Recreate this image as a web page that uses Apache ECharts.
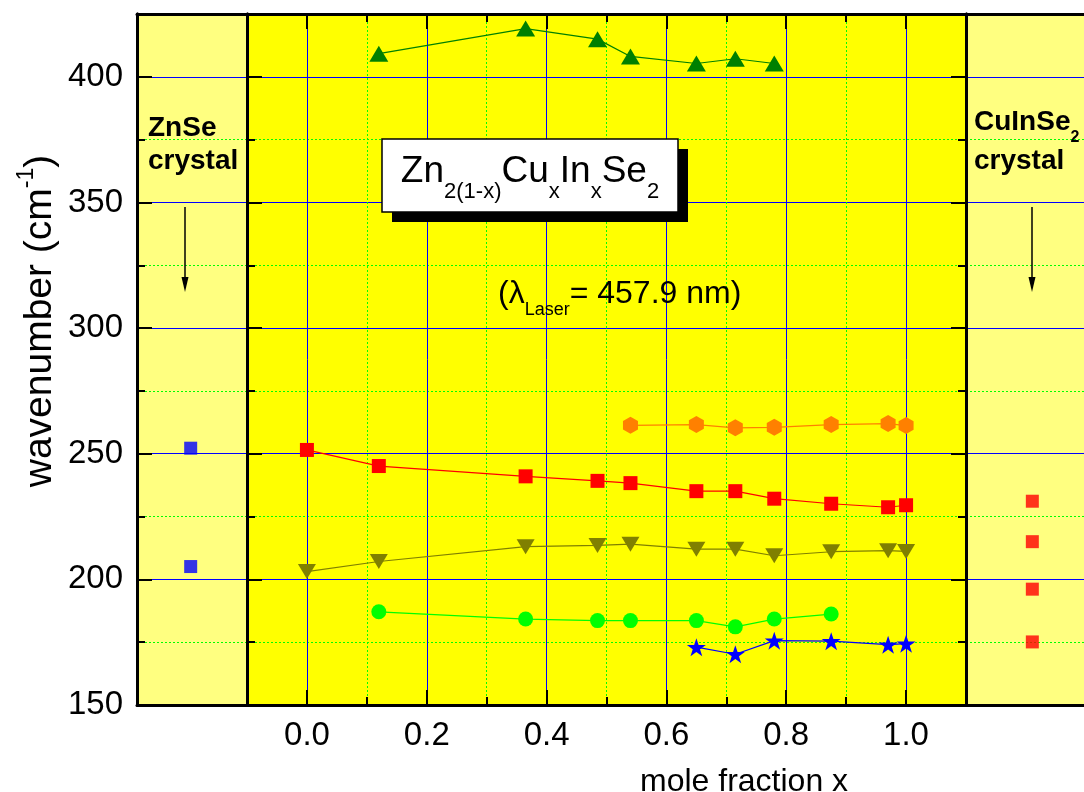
<!DOCTYPE html>
<html>
<head>
<meta charset="utf-8">
<script src="https://cdn.jsdelivr.net/npm/echarts@6/dist/echarts.min.js"></script>
<style>
  html, body { margin: 0; padding: 0; background: #fff; }
  #chart { width: 1084px; height: 792px; }
</style>
</head>
<body>
<div id="chart"></div>
<script>
// Raman mode positions (cm^-1) of Zn2(1-x)CuxInxSe2 versus mole fraction x
const moleFraction = [0, 0.12, 0.365, 0.485, 0.54, 0.65, 0.715, 0.78, 0.875, 0.97, 1.0];
const modeTriangle = [null, 409.2, 419.2, 415.0, 408.1, 405.3, 407.2, 405.3, null, null, null];
const modeHexagon  = [null, null, null, null, 261.3, 261.6, 260.3, 260.5, 261.6, 262.0, 261.2];
const modeSquare   = [251.5, 245.1, 241.0, 239.2, 238.3, 235.1, 235.1, 232.1, 230.1, 228.7, 229.5];
const modeDown     = [203.1, 207.1, 213.0, 213.5, 214.0, 212.0, 212.0, 209.4, 211.0, 211.4, 211.1];
const modeCircle   = [null, 187.1, 184.2, 183.6, 183.6, 183.6, 181.1, 184.2, 186.2, null, null];
const modeStar     = [null, null, null, null, null, 173.0, 170.2, 175.6, 175.4, 174.0, 174.4];

// reference crystals shown in the side panels
const znSeX = -0.194;
const znSeModes = [252.2, 205.1];
const cuInSe2X = 1.2126;
const cuInSe2Modes = [231.1, 215.0, 196.1, 175.1];

// axis ranges
const yMin = 150, yMax = 425;
const xMainRange = [-0.1, 1.1];
const xLeftRange = [-0.2836, -0.1];
const xRightRange = [1.1, 1.3003];
const xTickRange = [0, 1];

const FONT = '"Liberation Sans", Arial, Helvetica, sans-serif';
const BLACK = '#000000';
const dottedGreen = { color: '#00ff00', width: 1, type: [2, 2] };
const solidBlue = { color: '#0000ff', width: 1 };
const frameLine = { show: true, onZero: false, lineStyle: { color: BLACK, width: 3 } };

function pairs(xs, ys) {
  const out = [];
  ys.forEach((y, i) => { if (y !== null) out.push([xs[i], y]); });
  return out;
}

function starPath() {
  const pts = [];
  for (let i = 0; i < 10; i++) {
    const r = i % 2 ? 0.382 : 1;
    const a = -Math.PI / 2 + i * Math.PI / 5;
    pts.push((r * Math.cos(a)).toFixed(3) + ',' + (r * Math.sin(a)).toFixed(3));
  }
  return 'path://M' + pts.join('L') + 'Z';
}
const hexPath = 'path://M0,-1L0.866,-0.5L0.866,0.5L0,1L-0.866,0.5L-0.866,-0.5Z';

function xAx(grid, pos, range, extra) {
  return Object.assign({
    type: 'value', gridIndex: grid, position: pos, min: range[0], max: range[1],
    axisLine: { show: false, onZero: false }, axisTick: { show: false },
    axisLabel: { show: false }, splitLine: { show: false }
  }, extra || {});
}
function yAx(grid, pos, extra) {
  return Object.assign({
    type: 'value', gridIndex: grid, position: pos, min: yMin, max: yMax,
    axisLine: { show: false, onZero: false }, axisTick: { show: false },
    axisLabel: { show: false }, splitLine: { show: false }
  }, extra || {});
}
const minorTick = { show: true, inside: true, length: 8, lineStyle: { color: BLACK, width: 2 } };
const majorTick = { show: true, inside: true, length: 15, lineStyle: { color: BLACK, width: 2 } };

const xAxis = [
  // 0,1: left panel frame
  xAx(0, 'bottom', xLeftRange, { axisLine: frameLine }),
  xAx(0, 'top', xLeftRange, { axisLine: frameLine }),
  // 2,3: middle panel, minor positions (odd tenths)
  xAx(1, 'bottom', xMainRange, { interval: 0.2, axisLine: frameLine, axisTick: minorTick,
    splitLine: { show: true, lineStyle: dottedGreen } }),
  xAx(1, 'top', xMainRange, { interval: 0.2, axisLine: frameLine, axisTick: minorTick }),
  // 4,5: right panel frame
  xAx(2, 'bottom', xRightRange, { axisLine: frameLine }),
  xAx(2, 'top', xRightRange, { axisLine: frameLine }),
  // 6,7: major ticks, labels and grid lines 0.0 ... 1.0
  xAx(3, 'bottom', xTickRange, { interval: 0.2, axisTick: majorTick,
    axisLabel: { show: true, margin: 14, fontSize: 33, fontFamily: FONT, color: BLACK,
      formatter: v => v.toFixed(1) },
    splitLine: { show: true, lineStyle: solidBlue } }),
  xAx(3, 'top', xTickRange, { interval: 0.2, axisTick: majorTick })
];

const yLabel = { show: true, margin: 14, fontSize: 33, fontFamily: FONT, color: BLACK,
  formatter: v => (v % 50 === 0 ? String(v) : '') };

const yAxis = [
  // 0,1: outer left axis
  yAx(0, 'left', { interval: 25, axisLine: frameLine, axisTick: minorTick,
    splitLine: { show: true, lineStyle: dottedGreen } }),
  yAx(0, 'left', { interval: 50, axisLine: frameLine, axisTick: majorTick, axisLabel: yLabel,
    splitLine: { show: true, lineStyle: solidBlue } }),
  // 2..5: middle panel frame
  yAx(1, 'left', { interval: 25, axisLine: frameLine, axisTick: minorTick,
    splitLine: { show: true, lineStyle: dottedGreen } }),
  yAx(1, 'left', { interval: 50, axisLine: frameLine, axisTick: majorTick,
    splitLine: { show: true, lineStyle: solidBlue } }),
  yAx(1, 'right', { interval: 25, axisLine: frameLine, axisTick: minorTick }),
  yAx(1, 'right', { interval: 50, axisLine: frameLine, axisTick: majorTick }),
  // 6,7: right panel grid lines
  yAx(2, 'left', { interval: 25, splitLine: { show: true, lineStyle: dottedGreen } }),
  yAx(2, 'left', { interval: 50, splitLine: { show: true, lineStyle: solidBlue } }),
  // 8: tick helper grid
  yAx(3, 'left', { show: false })
];

function modeLine(values, color, symbol, size, rotate) {
  return {
    type: 'line', xAxisIndex: 2, yAxisIndex: 2, z: 3,
    data: pairs(moleFraction, values),
    symbol: symbol, symbolSize: size, symbolRotate: rotate || 0,
    showSymbol: true, showAllSymbol: true,
    itemStyle: { color: color, borderWidth: 0 },
    lineStyle: { color: color, width: 1.2 },
    emphasis: { disabled: true }, silent: true
  };
}

const series = [
  modeLine(modeTriangle, '#008000', 'triangle', [19, 16]),
  modeLine(modeHexagon, '#ff8000', hexPath, [15, 17]),
  modeLine(modeSquare, '#ff0000', 'rect', 14),
  modeLine(modeDown, '#808000', 'triangle', [18, 15], 180),
  modeLine(modeCircle, '#00ff00', 'circle', 15),
  modeLine(modeStar, '#0000ff', starPath(), [19, 18]),
  {
    type: 'scatter', xAxisIndex: 0, yAxisIndex: 0, z: 3, silent: true,
    data: znSeModes.map(v => [znSeX, v]),
    symbol: 'rect', symbolSize: 13, itemStyle: { color: '#0000ff' }
  },
  {
    type: 'scatter', xAxisIndex: 4, yAxisIndex: 6, z: 3, silent: true,
    data: cuInSe2Modes.map(v => [cuInSe2X, v]),
    symbol: 'rect', symbolSize: 13, itemStyle: { color: '#ff0000' }
  }
];

// text runs with subscripts: each piece is placed on its own baseline
const measureCtx = document.createElement('canvas').getContext('2d');
function textRun(x, baseline, parts, align, weight) {
  const fontOf = p => (weight ? weight + ' ' : '') + p.size + 'px ' + FONT;
  const widths = parts.map(p => { measureCtx.font = fontOf(p); return measureCtx.measureText(p.text).width; });
  const total = widths.reduce((a, b) => a + b, 0);
  let cx = align === 'center' ? x - total / 2 : x;
  return parts.map((p, i) => {
    const el = {
      type: 'text', z: 102, x: cx, y: baseline + (p.dy || 0) - 0.3465 * p.size,
      style: { text: p.text, font: fontOf(p), fill: BLACK, align: 'left', verticalAlign: 'middle' }
    };
    cx += widths[i];
    return el;
  });
}

function arrow(x, y0, y1) {
  return [
    { type: 'line', z: 100, shape: { x1: x, y1: y0, x2: x, y2: y1 - 12 }, style: { stroke: BLACK, lineWidth: 1.5 } },
    { type: 'polygon', z: 100, shape: { points: [[x, y1], [x - 3.5, y1 - 15], [x + 3.5, y1 - 15]] }, style: { fill: BLACK } }
  ];
}

const graphic = [
  // compound formula box with drop shadow
  { type: 'rect', z: 100, shape: { x: 392, y: 149, width: 296, height: 73 }, style: { fill: BLACK } },
  { type: 'rect', z: 101, shape: { x: 382, y: 139, width: 296, height: 73 },
    style: { fill: '#ffffff', stroke: BLACK, lineWidth: 1.5 } },
  ...textRun(530, 185, [
    { text: 'Zn', size: 37 }, { text: '2(1-x)', size: 22, dy: 15 },
    { text: 'Cu', size: 37 }, { text: 'x', size: 22, dy: 15 },
    { text: 'In', size: 37 }, { text: 'x', size: 22, dy: 15 },
    { text: 'Se', size: 37 }, { text: '2', size: 22, dy: 15 }
  ], 'center'),
  // excitation wavelength
  ...textRun(498, 305, [
    { text: '(λ', size: 32 }, { text: 'Laser', size: 18, dy: 11 }, { text: '= 457.9 nm)', size: 32 }
  ], 'left'),
  // side panel captions
  ...textRun(148, 138, [{ text: 'ZnSe', size: 28 }], 'left', 'bold'),
  ...textRun(148, 171, [{ text: 'crystal', size: 28 }], 'left', 'bold'),
  ...textRun(974, 132, [{ text: 'CuInSe', size: 28 }, { text: '2', size: 16, dy: 11 }], 'left', 'bold'),
  ...textRun(974, 171, [{ text: 'crystal', size: 28 }], 'left', 'bold'),
  ...arrow(185, 207, 292),
  ...arrow(1032, 207, 292),
  // axis titles
  { type: 'text', z: 102, x: 37.5, y: 321, rotation: Math.PI / 2,
    style: { text: '{m|wavenumber (cm}{p|-1}{m|)}', align: 'center', verticalAlign: 'middle',
      rich: {
        m: { fontSize: 39, fontFamily: FONT, lineHeight: 44, verticalAlign: 'bottom', fill: BLACK },
        p: { fontSize: 23, fontFamily: FONT, lineHeight: 24, verticalAlign: 'top', fill: BLACK }
      } } },
  ...textRun(640, 793, [{ text: 'mole fraction x', size: 32 }], 'left')
];

const chart = echarts.init(document.getElementById('chart'), null, { renderer: 'canvas' });
chart.setOption({
  animation: false,
  backgroundColor: '#ffffff',
  grid: [
    { left: 137, top: 14, width: 110, height: 691, show: true, backgroundColor: '#ffff80', borderWidth: 0 },
    { left: 247, top: 14, width: 719, height: 691, show: true, backgroundColor: '#ffff00', borderWidth: 0 },
    { left: 966, top: 14, width: 120, height: 691, show: true, backgroundColor: '#ffff80', borderWidth: 0 },
    { left: 307, top: 14, width: 599, height: 691, show: false }
  ],
  xAxis: xAxis,
  yAxis: yAxis,
  series: series,
  graphic: { elements: graphic }
});
</script>
</body>
</html>
